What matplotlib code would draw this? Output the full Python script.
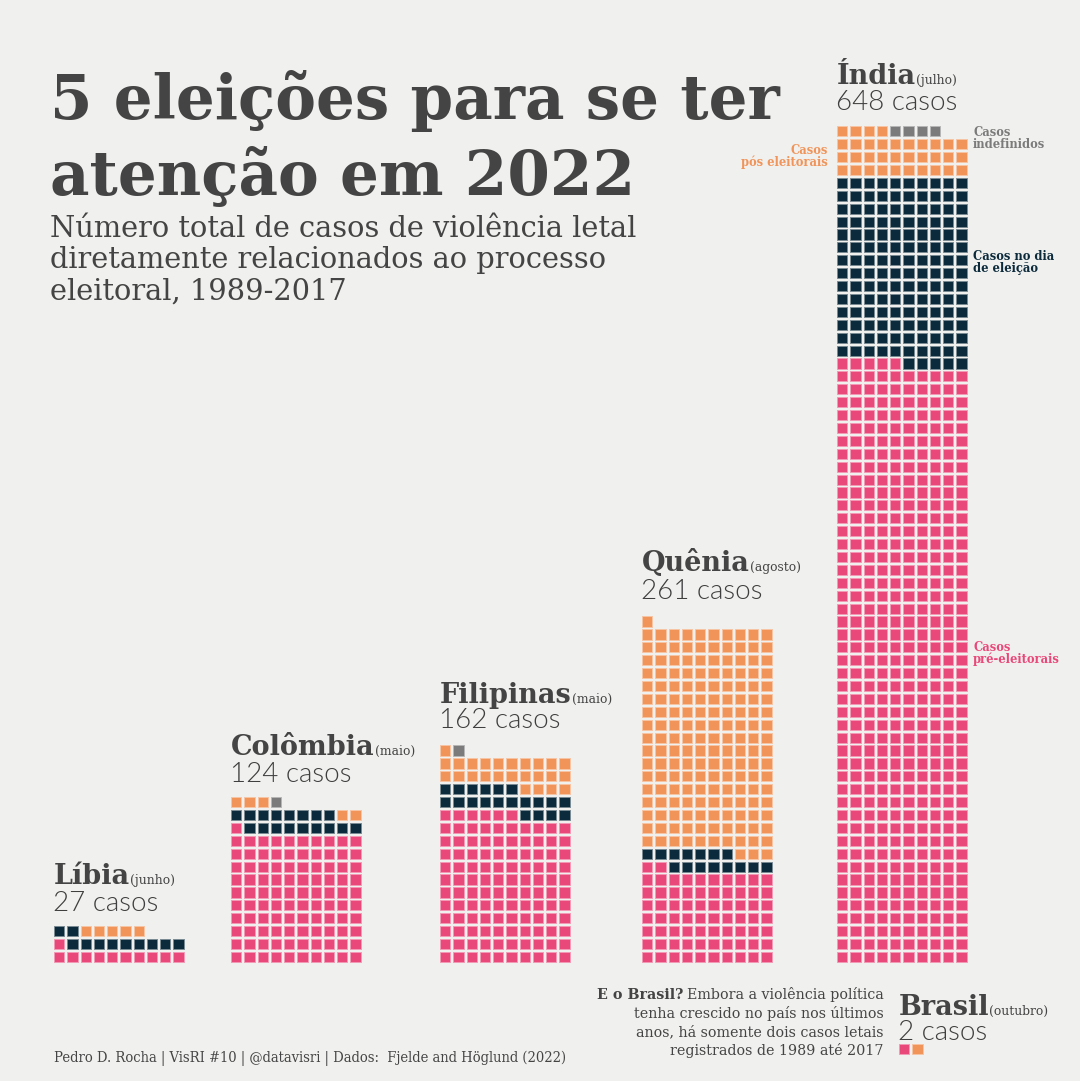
import matplotlib
matplotlib.use('Agg')
import matplotlib.pyplot as plt
from matplotlib.patches import Rectangle
from matplotlib import font_manager
import matplotlib.colors as mcolors

# dados (Fjelde and Höglund, 2022)
paises = ['Líbia', 'Colômbia', 'Filipinas', 'Quênia', 'Índia', 'Brasil']
meses = ['junho', 'maio', 'maio', 'agosto', 'julho', 'outubro']
totais = [27, 124, 162, 261, 648, 2]
pre_eleitorais = [11, 101, 116, 72, 465, 1]
dia_eleicao = [11, 17, 20, 15, 145, 0]
pos_eleitorais = [5, 5, 25, 174, 34, 1]
indefinidos = [0, 1, 1, 0, 4, 0]

bg = '#f0f0ee'
texto = '#444444'
rosa = '#e9487a'
azul = '#0b2a3b'
laranja = '#f19459'
cinza = '#7b7b7b'
cores = [rosa, azul, laranja, cinza]

serif = 'DejaVu Serif'
sans_light = 'Lato'
nomes = {(f.name, f.stretch) for f in font_manager.fontManager.ttflist}
if ('DejaVu Serif', 'condensed') in nomes:
    rodape_font, rodape_stretch, rodape_size = 'DejaVu Serif', 'condensed', 10.5
else:
    rodape_font, rodape_stretch, rodape_size = 'Liberation Serif', 'normal', 10.9

fig = plt.figure(figsize=(10.8, 10.81), dpi=100, facecolor=bg)
ax = fig.add_axes([0, 0, 1, 1])
ax.set_xlim(0, 1080)
ax.set_ylim(1081, 0)
ax.axis('off')
ax.set_facecolor(bg)

# grade dos waffles (pixels)
PX, PY = 13.25, 12.9
SW, SH = 10.4, 10.2
posicoes = [(54, 962), (231, 962), (440, 962), (642, 962), (837, 962), (899, 1054)]
gap_casos = [15, 15, 17, 17, 16, 4]
gap_nome = [27, 27, 25, 28, 26, 25]


def clarear(c, f=0.45):
    r, g, b = mcolors.to_rgb(c)
    return (r + (1 - r) * f, g + (1 - g) * f, b + (1 - b) * f)


def waffle(x0, base, contagens):
    k = 0
    for cor, n in zip(cores, contagens):
        for _ in range(n):
            lin, col = divmod(k, 10)
            ax.add_patch(Rectangle((x0 + col * PX, base - lin * PY - SH), SW, SH,
                                   facecolor=cor, edgecolor=clarear(cor), lw=0.7))
            k += 1
    nlin = (k + 9) // 10
    return base - (nlin - 1) * PY - SH


def linhas(x, y0, dy, textos, **kw):
    out = []
    for i, s in enumerate(textos):
        out.append(ax.text(x, y0 + i * dy, s, va='baseline', **kw))
    return out


nome_txts = []
for i, pais in enumerate(paises):
    x0, base = posicoes[i]
    cont = [pre_eleitorais[i], dia_eleicao[i], pos_eleitorais[i], indefinidos[i]]
    topo = waffle(x0, base, cont)
    y_casos = topo - gap_casos[i]
    y_nome = y_casos - gap_nome[i]
    ax.text(x0 - 1, y_casos, f'{totais[i]} casos', family=sans_light, weight=300,
            size=20, color='#3f3f3f', va='baseline', ha='left')
    t = ax.text(x0, y_nome, pais, family=serif, weight='bold', size=19.5,
                color=texto, va='baseline', ha='left')
    nome_txts.append((t, y_nome, meses[i]))

fig.canvas.draw()
inv = ax.transData.inverted()
for t, y, mes in nome_txts:
    bb = t.get_window_extent()
    xd = inv.transform((bb.x1, bb.y0))[0]
    ax.text(xd, y, f'({mes})', family=serif, size=8.8, color=texto,
            va='baseline', ha='left')

# título e subtítulo
ax.text(50, 119, '5 eleições para se ter', family=serif, weight='bold', size=44,
        color=texto, va='baseline')
ax.text(50, 195, 'atenção em 2022', family=serif, weight='bold', size=44,
        color=texto, va='baseline')
sub = ['Número total de casos de violência letal',
       'diretamente relacionados ao processo',
       'eleitoral, 1989-2017']
linhas(50, 237, 31.5, sub, family=serif, size=20.8, color=texto)

# rótulos das categorias (Índia)
rot = dict(family=serif, weight='bold', size=8.3)
linhas(828, 154, 11.8, ['Casos', 'pós eleitorais'], color=laranja, ha='right', **rot)
linhas(973, 136, 11.8, ['Casos', 'indefinidos'], color=cinza, ha='left', **rot)
linhas(973, 260, 11.8, ['Casos no dia', 'de eleição'], color=azul, ha='left', **rot)
linhas(973, 651, 11.8, ['Casos', 'pré-eleitorais'], color=rosa, ha='left', **rot)

# nota sobre o Brasil
nota = dict(family=serif, size=10.3, color=texto, ha='right')
t1 = ax.text(884, 999, 'Embora a violência política', va='baseline', **nota)
fig.canvas.draw()
bb = t1.get_window_extent()
xl = inv.transform((bb.x0, bb.y0))[0]
ax.text(xl - 4, 999, 'E o Brasil?', va='baseline', weight='bold', **nota)
linhas(884, 1018, 18.7, ['tenha crescido no país nos últimos',
                         'anos, há somente dois casos letais',
                         'registrados de 1989 até 2017'], **nota)

# rodapé
ax.text(54, 1062, 'Pedro D. Rocha | VisRI #10 | @datavisri | Dados:  Fjelde and Höglund (2022)',
        family=rodape_font, fontstretch=rodape_stretch, size=rodape_size,
        color=texto, va='baseline')

fig.savefig('out.png', dpi=100, facecolor=bg)
